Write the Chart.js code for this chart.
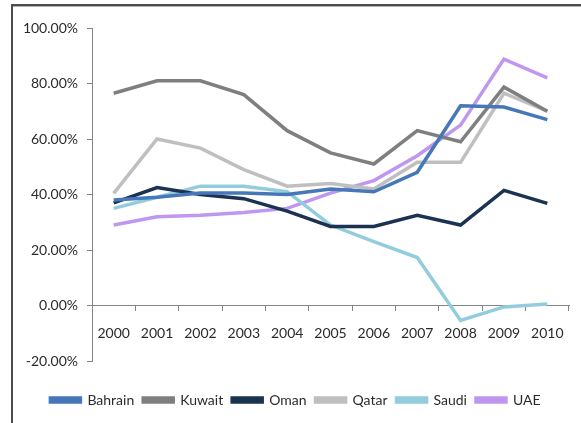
<!DOCTYPE html>
<html>
<head>
<meta charset="utf-8">
<script src="https://cdn.jsdelivr.net/npm/chart.js@4"></script>
<style>
  html, body { margin: 0; padding: 0; background: #fff; }
  #wrap { width: 581px; height: 423px; }
</style>
</head>
<body>
<div id="wrap"><canvas id="chart" width="581" height="423"></canvas></div>
<script>
// yearly values, in percent
const years = ["2000", "2001", "2002", "2003", "2004", "2005", "2006", "2007", "2008", "2009", "2010"]
const bahrain = [38, 39, 40.5, 40.5, 40, 42, 41, 48, 72, 71.5, 67]
const kuwait = [76.5, 81, 81, 76, 63, 55, 51, 63, 59, 78.7, 70]
const oman = [37, 42.5, 40, 38.5, 34, 28.5, 28.5, 32.5, 29, 41.5, 36.8]
const qatar = [40.4, 60, 56.7, 49, 43, 44, 42, 51.6, 51.6, 76.5, 70]
const saudi = [35, 39, 43, 43, 41, 29, 23, 17.3, -5.4, -0.5, 0.5]
const uae = [29, 32, 32.5, 33.5, 35, 40.5, 45, 54, 65, 88.8, 82]

const seriesNames = ["Bahrain", "Kuwait", "Oman", "Qatar", "Saudi", "UAE"]
const seriesData = [bahrain, kuwait, oman, qatar, saudi, uae]
const seriesColors = ["#4677b8", "#7f7f7f", "#1b3350", "#bfbfbf", "#93cddd", "#bf97f0"]

const axisColor = "#868686"
const textColor = "#2b2b2b"

/**
 * Draws the white background and the dark frame on the top and left edges
 */
const framePlugin = {
    id: "frame",
    beforeDraw(chart) {
        const ctx = chart.ctx
        ctx.save()
        ctx.fillStyle = "#ffffff"
        ctx.fillRect(0, 0, chart.width, chart.height)
        ctx.strokeStyle = "#4d4d4d"
        ctx.lineWidth = 2
        ctx.beginPath()
        ctx.moveTo(11, 5)
        ctx.lineTo(chart.width, 5)
        ctx.moveTo(12, 4)
        ctx.lineTo(12, chart.height)
        ctx.stroke()
        ctx.strokeStyle = "#b0b0b0"
        ctx.lineWidth = 1
        ctx.beginPath()
        ctx.moveTo(13, 6.5)
        ctx.lineTo(chart.width, 6.5)
        ctx.stroke()
        ctx.restore()
    }
}

/**
 * Pushes the legend row further down and a little to the right
 */
const legendShift = {
    id: "legendShift",
    afterLayout(chart) {
        const legend = chart.legend
        if (!legend) return
        legend.top += 23
        legend.bottom += 23
        legend.left += 4
        legend.right += 4
    }
}

Chart.defaults.font.family = "Lato, 'DejaVu Sans', sans-serif"
Chart.defaults.font.size = 14
Chart.defaults.color = textColor

new Chart(document.getElementById("chart"), {
    type: "line",
    data: {
        labels: years,
        datasets: seriesNames.map((name, i) => ({
            label: name,
            data: seriesData[i],
            borderColor: seriesColors[i],
            backgroundColor: seriesColors[i],
            borderWidth: 3.5,
            pointRadius: 0,
            tension: 0,
            fill: false
        }))
    },
    options: {
        responsive: false,
        animation: false,
        layout: {
            padding: { left: 14, right: 12, top: 28, bottom: 29 }
        },
        plugins: {
            tooltip: { enabled: false },
            legend: {
                position: "bottom",
                labels: {
                    boxWidth: 30,
                    boxHeight: 4,
                    padding: 9,
                    color: textColor,
                    font: { size: 14 }
                }
            }
        },
        scales: {
            x: {
                position: { y: 0 },
                offset: true,
                grid: {
                    offset: true,
                    drawOnChartArea: false,
                    drawTicks: true,
                    tickLength: 5,
                    color: axisColor
                },
                border: { color: axisColor, width: 1 },
                ticks: { padding: 15, maxRotation: 0 }
            },
            y: {
                min: -20,
                max: 100,
                afterFit(scale) { scale.width = 78 },
                grid: {
                    drawOnChartArea: false,
                    drawTicks: true,
                    tickLength: 5,
                    color: axisColor
                },
                border: { color: axisColor, width: 1 },
                ticks: {
                    stepSize: 20,
                    padding: 9,
                    callback: v => v.toFixed(2) + "%"
                }
            }
        }
    },
    plugins: [framePlugin, legendShift]
})
</script>
</body>
</html>
